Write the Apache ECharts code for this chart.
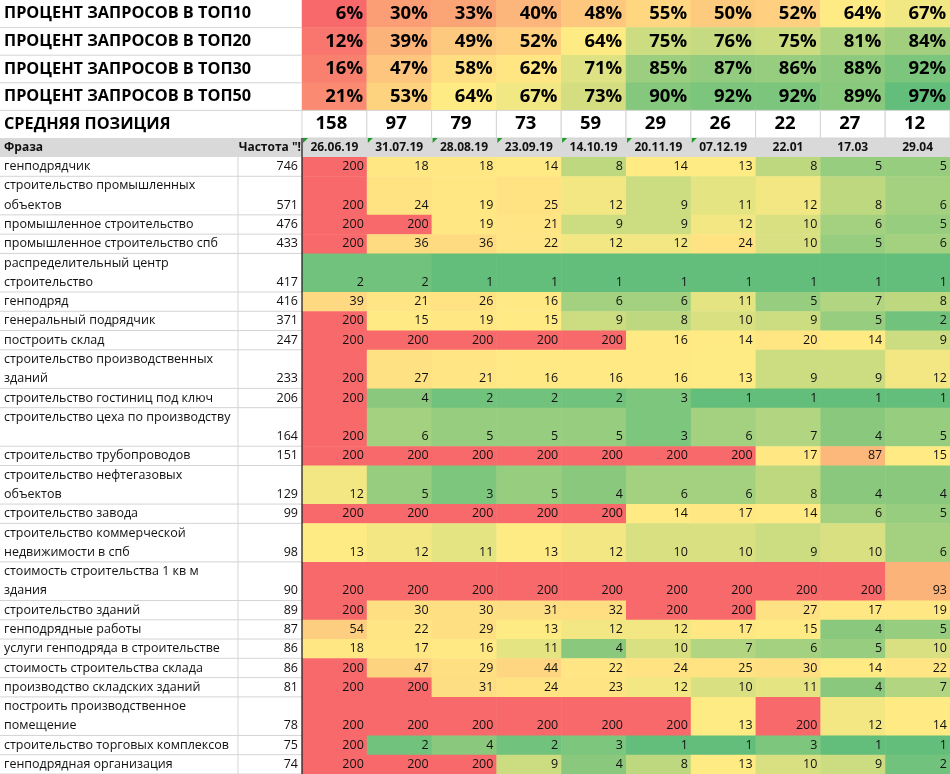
<!DOCTYPE html>
<html>
<head>
<meta charset="utf-8">
<script src="https://cdn.jsdelivr.net/npm/echarts@6/dist/echarts.min.js"></script>
<style>
    html, body { margin: 0; padding: 0; background: #fff; }
    #chart { width: 950px; height: 774px; }
</style>
</head>
<body>
<div id="chart"></div>
<script>
// data
const dates = ['26.06.19', '31.07.19', '28.08.19', '23.09.19', '14.10.19', '20.11.19', '07.12.19', '22.01', '17.03', '29.04'];
const topLabels = ['ПРОЦЕНТ ЗАПРОСОВ В ТОП10', 'ПРОЦЕНТ ЗАПРОСОВ В ТОП20', 'ПРОЦЕНТ ЗАПРОСОВ В ТОП30', 'ПРОЦЕНТ ЗАПРОСОВ В ТОП50'];
const avgLabel = 'СРЕДНЯЯ ПОЗИЦИЯ';
const top10 = [6, 30, 33, 40, 48, 55, 50, 52, 64, 67];
const top20 = [12, 39, 49, 52, 64, 75, 76, 75, 81, 84];
const top30 = [16, 47, 58, 62, 71, 85, 87, 86, 88, 92];
const top50 = [21, 53, 64, 67, 73, 90, 92, 92, 89, 97];
const avgPosition = [158, 97, 79, 73, 59, 29, 26, 22, 27, 12];

const headPhrase = 'Фраза';
const headFreq = 'Частота "!';
// wrapped cells keep their line breaks, one empty line for the overflow row
const phrases = [
    'генподрядчик',
    'строительство промышленных\nобъектов',
    'промышленное строительство',
    'промышленное строительство спб',
    'распределительный центр\nстроительство',
    'генподряд',
    'генеральный подрядчик',
    'построить склад',
    'строительство производственных\nзданий',
    'строительство гостиниц под ключ',
    'строительство цеха по производству\n',
    'строительство трубопроводов',
    'строительство нефтегазовых\nобъектов',
    'строительство завода',
    'строительство коммерческой\nнедвижимости в спб',
    'стоимость строительства 1 кв м\nздания',
    'строительство зданий',
    'генподрядные работы',
    'услуги генподряда в строительстве',
    'стоимость строительства склада',
    'производство складских зданий',
    'построить производственное\nпомещение',
    'строительство торговых комплексов',
    'генподрядная организация',
];
const frequency = [746, 571, 476, 433, 417, 416, 371, 247, 233, 206, 164, 151, 129, 99, 98, 90, 89, 87, 86, 86, 81, 78, 75, 74];
const positions = [
    [200, 18, 18, 14, 8, 14, 13, 8, 5, 5],
    [200, 24, 19, 25, 12, 9, 11, 12, 8, 6],
    [200, 200, 19, 21, 9, 9, 12, 10, 6, 5],
    [200, 36, 36, 22, 12, 12, 24, 10, 5, 6],
    [2, 2, 1, 1, 1, 1, 1, 1, 1, 1],
    [39, 21, 26, 16, 6, 6, 11, 5, 7, 8],
    [200, 15, 19, 15, 9, 8, 10, 9, 5, 2],
    [200, 200, 200, 200, 200, 16, 14, 20, 14, 9],
    [200, 27, 21, 16, 16, 16, 13, 9, 9, 12],
    [200, 4, 2, 2, 2, 3, 1, 1, 1, 1],
    [200, 6, 5, 5, 5, 3, 6, 7, 4, 5],
    [200, 200, 200, 200, 200, 200, 200, 17, 87, 15],
    [12, 5, 3, 5, 4, 6, 6, 8, 4, 4],
    [200, 200, 200, 200, 200, 14, 17, 14, 6, 5],
    [13, 12, 11, 13, 12, 10, 10, 9, 10, 6],
    [200, 200, 200, 200, 200, 200, 200, 200, 200, 93],
    [200, 30, 30, 31, 32, 200, 200, 27, 17, 19],
    [54, 22, 29, 13, 12, 12, 17, 15, 4, 5],
    [18, 17, 16, 11, 4, 10, 7, 6, 5, 10],
    [200, 47, 29, 44, 22, 24, 25, 30, 14, 22],
    [200, 200, 31, 24, 23, 12, 10, 11, 4, 7],
    [200, 200, 200, 200, 200, 200, 13, 200, 12, 14],
    [200, 2, 4, 2, 3, 1, 1, 3, 1, 1],
    [200, 200, 200, 9, 4, 8, 13, 10, 9, 2],
];

// layout
const FONT = '"Open Sans", "Noto Sans", sans-serif';
const W = 950;
const LEFT = 302;
const PHRASE_W = 238;
const TOP_H = 138;
const HEAD_H = 19;
const BODY_SIZE = 12.5;
const GRID_LINE = '#D4D4D4';
const TEXT = '#111';

// excel 3-colour scale
const RED = '#F8696B', YELLOW = '#FFEB84', GREEN = '#63BE7B';
const hexToRgb = (h) => [1, 3, 5].map(i => parseInt(h.substr(i, 2), 16));
const mix = (a, b, t) => {
    const ca = hexToRgb(a), cb = hexToRgb(b);
    return 'rgb(' + ca.map((v, i) => Math.round(v + (cb[i] - v) * t)).join(',') + ')';
};
const median = (arr) => {
    const s = [...arr].sort((a, b) => a - b);
    const m = s.length / 2;
    return s.length % 2 ? s[Math.floor(m)] : (s[m - 1] + s[m]) / 2;
};
const scaleStops = (values, lowColor, highColor) => {
    const min = Math.min(...values), max = Math.max(...values), mid = median(values);
    const n = 200;
    const colors = Array.from({length: n}, (_, k) => {
        const v = min + (max - min) * k / (n - 1);
        return v <= mid
            ? mix(lowColor, YELLOW, (v - min) / (mid - min))
            : mix(YELLOW, highColor, (v - mid) / (max - mid));
    });
    return {min, max, colors};
};

// rows of the big table span one or two text lines
const rowLines = phrases.map(p => p.split('\n').length);
const rowStart = [];
rowLines.reduce((acc, n, i) => { rowStart[i] = acc; return acc + n; }, 0);
const totalLines = rowLines.reduce((a, b) => a + b, 0);

const pctRows = [top10, top20, top30, top50];
const pctData = [];
pctRows.forEach((row, r) => row.forEach((v, c) => pctData.push([c, r, v])));
const pctScale = scaleStops(pctRows.flat(), RED, GREEN);

const cellData = [];
positions.forEach((row, r) => row.forEach((v, c) => cellData.push([c, rowStart[r], rowStart[r] + rowLines[r], v])));
const posScale = scaleStops(positions.flat(), GREEN, RED);

const chart = echarts.init(document.getElementById('chart'));

const option = {
    animation: false,
    backgroundColor: '#fff',
    textStyle: {fontFamily: FONT},
    grid: [
        {left: LEFT, right: 0, top: 0, height: TOP_H},
        {left: LEFT, right: 0, top: TOP_H + HEAD_H, bottom: 0},
    ],
    xAxis: [
        {
            type: 'category', gridIndex: 0, data: dates,
            axisLine: {show: false}, axisTick: {show: false}, axisLabel: {show: false},
        },
        {
            type: 'category', gridIndex: 1, data: dates, position: 'top', z: 10,
            axisLine: {show: false}, axisTick: {show: false}, splitLine: {show: false},
            axisLabel: {
                margin: HEAD_H / 2, verticalAlign: 'middle',
                fontFamily: FONT, fontSize: 12, fontWeight: 'bold', color: TEXT,
            },
        },
    ],
    yAxis: [
        {
            type: 'category', gridIndex: 0, inverse: true, data: [...topLabels, avgLabel],
            axisLine: {show: false}, axisTick: {show: false}, splitLine: {show: false},
            axisLabel: {
                align: 'left', margin: LEFT - 4,
                fontFamily: FONT, fontSize: 16.3, fontWeight: 'bold', color: '#000',
            },
        },
        {
            type: 'value', gridIndex: 1, inverse: true, min: 0, max: totalLines, show: false,
        },
    ],
    visualMap: [
        {
            type: 'continuous', show: false, seriesIndex: 0, dimension: 2,
            min: pctScale.min, max: pctScale.max, inRange: {color: pctScale.colors},
        },
        {
            type: 'continuous', show: false, seriesIndex: 5, dimension: 3,
            min: posScale.min, max: posScale.max, inRange: {color: posScale.colors},
        },
    ],
    graphic: [
        {type: 'rect', z: -5, shape: {x: 0, y: TOP_H, width: W, height: HEAD_H}, style: {fill: '#D9D9D9'}},
        {
            type: 'text', z: 10, x: 4, y: TOP_H + HEAD_H / 2,
            style: {text: headPhrase, fontFamily: FONT, fontSize: 12, fontWeight: 'bold', fill: TEXT, verticalAlign: 'middle'},
        },
        {
            type: 'text', z: 10, x: LEFT - 1, y: TOP_H + HEAD_H / 2,
            style: {text: headFreq, fontFamily: FONT, fontSize: 12, fontWeight: 'bold', fill: TEXT, align: 'right', verticalAlign: 'middle'},
        },
        {
            type: 'line', z: 20, shape: {x1: LEFT, y1: TOP_H, x2: LEFT, y2: 774},
            style: {stroke: '#222', lineWidth: 1.3},
        },
    ],
    series: [
        // percent of queries in top N
        {
            type: 'heatmap', xAxisIndex: 0, yAxisIndex: 0, data: pctData,
            emphasis: {disabled: true},
            label: {
                show: true, position: 'insideRight', distance: 4,
                formatter: (p) => p.value[2] + '%',
                fontFamily: FONT, fontSize: 18.5, fontWeight: 'bold', color: '#000',
            },
        },
        // average position row
        {
            type: 'custom', xAxisIndex: 0, yAxisIndex: 0,
            data: avgPosition.map((v, i) => [i, topLabels.length, v]),
            renderItem: (params, api) => {
                const [cx, cy] = api.coord([api.value(0), api.value(1)]);
                const [w, h] = api.size([1, 1]);
                return {
                    type: 'group',
                    children: [
                        {type: 'rect', shape: {x: cx - w / 2, y: cy - h / 2, width: w, height: h}, style: {fill: '#fff', stroke: GRID_LINE, lineWidth: 1}},
                        {
                            type: 'text',
                            style: {
                                text: String(api.value(2)), x: cx - 3, y: cy, align: 'center', verticalAlign: 'middle',
                                fontFamily: FONT, fontSize: 18.5, fontWeight: 'bold', fill: '#000',
                            },
                        },
                    ],
                };
            },
        },
        // gridlines under the top row labels
        {
            type: 'custom', xAxisIndex: 0, yAxisIndex: 0,
            data: topLabels.map((_, i) => [0, i]),
            renderItem: (params, api) => {
                const y = api.coord([0, api.value(1)])[1] + api.size([1, 1])[1] / 2;
                return {type: 'line', shape: {x1: 0, y1: y, x2: params.coordSys.x, y2: y}, style: {stroke: GRID_LINE, lineWidth: 1}};
            },
        },
        // green markers of dates stored as text (full dd.mm.yy)
        {
            type: 'custom', xAxisIndex: 1, yAxisIndex: 1, z: 11,
            data: dates.map((d, i) => [i, d.length]).filter(d => d[1] > 5),
            renderItem: (params, api) => {
                const x0 = api.coord([api.value(0), 0])[0] - api.size([1, 1])[0] / 2;
                const y0 = params.coordSys.y - HEAD_H;
                return {
                    type: 'polygon',
                    shape: {points: [[x0 + 1, y0], [x0 + 6, y0], [x0 + 1, y0 + 5]]},
                    style: {fill: '#1E9A2A'},
                };
            },
        },
        // phrase and frequency columns
        {
            type: 'custom', xAxisIndex: 1, yAxisIndex: 1,
            data: phrases.map((p, i) => [0, rowStart[i], rowStart[i] + rowLines[i], frequency[i]]),
            renderItem: (params, api) => {
                const y0 = api.coord([0, api.value(1)])[1];
                const y1 = api.coord([0, api.value(2)])[1];
                const lines = phrases[params.dataIndex].split('\n');
                const lineH = (y1 - y0) / lines.length;
                const children = [
                    {type: 'line', shape: {x1: 0, y1: y1, x2: LEFT, y2: y1}, style: {stroke: GRID_LINE, lineWidth: 1}},
                    {type: 'line', shape: {x1: PHRASE_W, y1: y0, x2: PHRASE_W, y2: y1}, style: {stroke: GRID_LINE, lineWidth: 1}},
                    {
                        type: 'text',
                        style: {
                            text: String(api.value(3)), x: LEFT - 4, y: y1 - lineH / 2, align: 'right', verticalAlign: 'middle',
                            fontFamily: FONT, fontSize: BODY_SIZE, fill: TEXT,
                        },
                    },
                ];
                lines.forEach((t, k) => children.push({
                    type: 'text',
                    style: {
                        text: t, x: 4, y: y0 + lineH * (k + 0.5), verticalAlign: 'middle',
                        fontFamily: FONT, fontSize: BODY_SIZE, fill: TEXT,
                    },
                }));
                return {type: 'group', children};
            },
        },
        // positions heatmap
        {
            type: 'custom', xAxisIndex: 1, yAxisIndex: 1, data: cellData,
            renderItem: (params, api) => {
                const cx = api.coord([api.value(0), 0])[0];
                const w = api.size([1, 1])[0];
                const y0 = api.coord([0, api.value(1)])[1];
                const y1 = api.coord([0, api.value(2)])[1];
                const lineH = (y1 - y0) / (api.value(2) - api.value(1));
                return {
                    type: 'group',
                    children: [
                        {type: 'rect', shape: {x: cx - w / 2, y: y0, width: w + 0.5, height: y1 - y0 + 0.5}, style: {fill: api.visual('color')}},
                        {
                            type: 'text',
                            style: {
                                text: String(api.value(3)), x: cx + w / 2 - 3, y: y1 - lineH / 2,
                                align: 'right', verticalAlign: 'middle',
                                fontFamily: FONT, fontSize: BODY_SIZE, fill: TEXT,
                            },
                        },
                    ],
                };
            },
        },
    ],
};

chart.setOption(option);
</script>
</body>
</html>
